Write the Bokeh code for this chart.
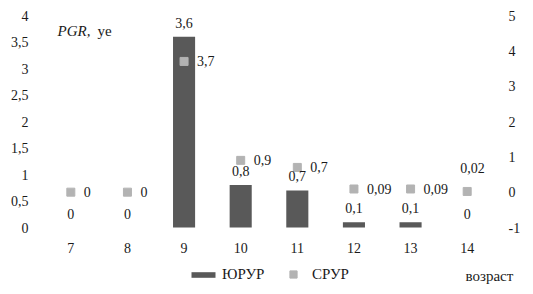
from bokeh.plotting import figure
from bokeh.models import (Range1d, LinearAxis, FixedTicker, ColumnDataSource,
                          LabelSet, Label, Legend, LegendItem)
from bokeh.core.properties import value
from bokeh.embed import file_html
from bokeh.resources import INLINE

# ---- data ----
ages = ["7", "8", "9", "10", "11", "12", "13", "14"]
yurur = [0, 0, 3.6, 0.8, 0.7, 0.1, 0.1, 0]          # bars, left axis
srur = [0, 0, 3.7, 0.9, 0.7, 0.09, 0.09, 0.02]      # squares, right axis
left_ticks = [0, 0.5, 1, 1.5, 2, 2.5, 3, 3.5, 4]
right_ticks = [-1, 0, 1, 2, 3, 4, 5]
series_names = ["ЮРУР", "СРУР"]
x_title = "возраст"


def fmt(v):
    return ("%g" % v).replace(".", ",").replace("\u2212", "-")


FONT = "serif"
TXT = "#1a1a1a"
FS = "14px"

# layout (pixels)
W, H = 525, 286
LEFT, BOTTOM = 42, 2
FH = H - BOTTOM                  # frame height (frame starts at the top)
FW = W - LEFT                    # frame width (frame runs to the right edge)
AX_TOP, AX_BOT = 15, 227         # pixel rows of the top / bottom value-axis ticks
CAT_PX = 453 / len(ages)         # width of one age category
above = AX_TOP
below = FH - AX_BOT


def yrange(ticks):
    lo, hi = ticks[0], ticks[-1]
    per_px = (hi - lo) / (AX_BOT - AX_TOP)
    return Range1d(lo - below * per_px, hi + above * per_px)


n = len(ages)
xi = list(range(n))              # category slots
src = ColumnDataSource(dict(
    xi=xi, yurur=yurur, srur=srur,
    yl=[fmt(v) for v in yurur], sl=[fmt(v) for v in srur],
    sxo=[13 if i < n - 1 else -7 for i in range(n)],
    syo=[0 if i < n - 1 else 23 for i in range(n)],
))

p = figure(width=W, height=H, x_range=Range1d(-0.5, -0.5 + FW / CAT_PX),
           y_range=yrange(left_ticks),
           output_backend="svg", toolbar_location=None,
           min_border_left=LEFT, min_border_right=0, min_border_top=0,
           min_border_bottom=BOTTOM)
p.extra_y_ranges = {"r": yrange(right_ticks)}
p.outline_line_color = None
p.xgrid.grid_line_color = None
p.ygrid.grid_line_color = None
p.background_fill_color = None
p.border_fill_color = "white"

r_bar = p.vbar(x="xi", top="yurur", width=0.39, source=src,
               fill_color="#595959", line_color=None)
r_sq = p.scatter(x="xi", y="srur", y_range_name="r", marker="square", size=8,
                 fill_color="#b3b3b3", line_color="#b3b3b3", source=src)

raxis = LinearAxis(y_range_name="r")
p.add_layout(raxis, "right")


def style(ax, standoff):
    ax.axis_line_color = None
    ax.major_tick_line_color = None
    ax.minor_tick_line_color = None
    ax.major_tick_in = 0
    ax.major_tick_out = 0
    ax.major_label_text_font = FONT
    ax.major_label_text_font_size = FS
    ax.major_label_text_color = TXT
    ax.major_label_standoff = standoff


p.yaxis[0].ticker = FixedTicker(ticks=left_ticks)
p.yaxis[0].major_label_overrides = {float(t): fmt(t) for t in left_ticks}
raxis.ticker = FixedTicker(ticks=right_ticks)
raxis.major_label_overrides = {float(t): fmt(t) for t in right_ticks}
raxis.fixed_location = n - 0.5
p.xaxis[0].ticker = FixedTicker(ticks=xi)
p.xaxis[0].major_label_overrides = {i: a for i, a in zip(xi, ages)}
p.xaxis[0].fixed_location = 0
style(p.yaxis[0], 14)
style(raxis, 13)
style(p.xaxis[0], 15)

bar_labels = LabelSet(x="xi", y="yurur", text="yl", source=src, text_align="center",
                      text_baseline="middle", y_offset=14, text_font=value(FONT),
                      text_font_size=value(FS), text_color=TXT)
sq_labels = LabelSet(x="xi", y="srur", text="sl", source=src, y_range_name="r",
                     text_align="left", text_baseline="middle", x_offset="sxo", y_offset="syo",
                     text_font=value(FONT), text_font_size=value(FS), text_color=TXT)
p.add_layout(bar_labels)
p.add_layout(sq_labels)

p.add_layout(Label(x=15, y=FH - 30, x_units="screen", y_units="screen", text="PGR,",
                   text_font=FONT, text_font_style="italic", text_font_size="15px",
                   text_baseline="middle", text_color=TXT))
p.add_layout(Label(x=55, y=FH - 30, x_units="screen", y_units="screen", text="ye",
                   text_font=FONT, text_font_size="15px",
                   text_baseline="middle", text_color=TXT))
p.add_layout(Label(x=423, y=9, x_units="screen", y_units="screen", text=x_title,
                   text_font=FONT, text_font_size="15px",
                   text_baseline="middle", text_color=TXT))

common = dict(padding=0, margin=0, border_line_color=None, background_fill_alpha=0,
              label_text_font=FONT, label_text_font_size="15px", label_text_color=TXT,
              orientation="horizontal", label_standoff=4, glyph_width=30)
leg1 = Legend(items=[LegendItem(label=series_names[0], renderers=[r_bar])],
              location=(146, 1), glyph_height=7, label_height=7, **common)
leg2 = Legend(items=[LegendItem(label=series_names[1], renderers=[r_sq])],
              location=(236, 1), glyph_height=18, label_height=18, **common)
p.add_layout(leg1)
p.add_layout(leg2)

open("out.html", "w").write(file_html(p, INLINE))
